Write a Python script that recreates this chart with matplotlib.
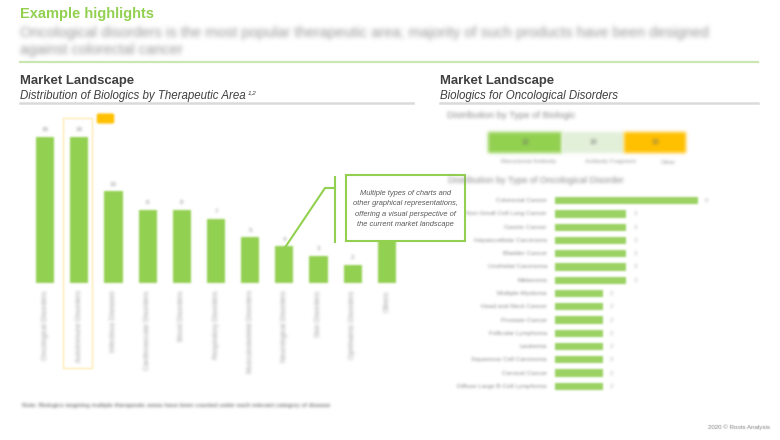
import numpy as np
import matplotlib
matplotlib.use("Agg")
import matplotlib.pyplot as plt
from matplotlib.patches import Rectangle, FancyBboxPatch
from matplotlib.lines import Line2D
from matplotlib.colors import to_rgb

# ---------------- data ----------------
area_names = ["Oncological Disorders", "Autoimmune Disorders", "Infectious Diseases",
              "Cardiovascular Disorders", "Blood Disorders", "Respiratory Disorders",
              "Musculoskeletal Disorders", "Neurological Disorders", "Skin Disorders",
              "Ophthalmic Disorders", "Others"]
area_values = [16, 16, 10, 8, 8, 7, 5, 4, 3, 2, 9]

biologic_types = ["Monoclonal Antibody", "Antibody Fragment", "Other"]
biologic_values = [12, 10, 10]

onc_names = ["Colorectal Cancer", "Non-Small Cell Lung Cancer", "Gastric Cancer",
             "Hepatocellular Carcinoma", "Bladder Cancer", "Urothelial Carcinoma",
             "Melanoma", "Multiple Myeloma", "Head and Neck Cancer", "Prostate Cancer",
             "Follicular Lymphoma", "Leukemia", "Squamous Cell Carcinoma",
             "Cervical Cancer", "Diffuse Large B-Cell Lymphoma"]
onc_values = [6, 3, 3, 3, 3, 3, 3, 2, 2, 2, 2, 2, 2, 2, 2]

headline = ["Oncological disorders is the most popular therapeutic area; majority of such products have been designed",
            "against colorectal cancer"]
callout = ["Multiple types of charts and", "other graphical representations,",
           "offering a visual perspective of", "the current market landscape"]

GREEN = "#92D050"
LIGHT_GREEN = "#E2F0D9"
ORANGE = "#FFC000"
SANS = ["Liberation Sans", "DejaVu Sans"]

W, H = 780, 440
fig = plt.figure(figsize=(7.8, 4.4), dpi=100)
fig.patch.set_facecolor("white")
renderer = fig.canvas.get_renderer()


def fx(x):
    return x / W


def fy(y):
    return 1 - y / H


class Blur:
    """Gaussian blur of an artist's alpha, painted with a flat colour."""
    def __init__(self, sigma, color):
        self.sigma = sigma
        self.color = to_rgb(color)

    def __call__(self, im, dpi):
        s = self.sigma * dpi / 100.0
        r = max(1, int(np.ceil(3 * s)))
        pad = r + 1
        a = np.pad(im[:, :, 3], pad)
        xs = np.arange(-r, r + 1)
        k = np.exp(-xs ** 2 / (2 * s * s))
        k /= k.sum()
        b = np.zeros_like(a)
        for i, w in enumerate(k):
            b += w * np.roll(a, i - r, axis=0)
        c = np.zeros_like(b)
        for i, w in enumerate(k):
            c += w * np.roll(b, i - r, axis=1)
        out = np.zeros(c.shape + (4,))
        out[..., :3] = self.color
        out[..., 3] = np.clip(c, 0, 1)
        return out, -pad, -pad


def blur(artist, sigma, color):
    artist.set_agg_filter(Blur(sigma, color))
    return artist


def fit_width(t, target):
    bb = t.get_window_extent(renderer)
    t.set_fontsize(t.get_fontsize() * target / bb.width)


# ---------------- header ----------------
t = fig.text(fx(20), fy(14), "Example highlights", color=GREEN, fontsize=11,
             fontweight="bold", va="center", family=SANS)
fit_width(t, 135)
for j, line in enumerate(headline):
    t = fig.text(fx(20), fy(33 + 17 * j), line, color="#959595", fontsize=10,
                 va="center", family=SANS)
    blur(t, 2.3, "#959595")
    if j == 0:
        fit_width(t, 685)
        fs_head = t.get_fontsize()
    else:
        t.set_fontsize(fs_head)
fig.add_artist(Line2D([fx(20), fx(758)], [fy(62), fy(62)], color="#C9E7AE", lw=1.6))

# ---------------- section headers ----------------
for x0, x1, sub, wsub in [(20, 413, "Distribution of Biologics by Therapeutic Area", 225),
                          (440, 758, "Biologics for Oncological Disorders", 178)]:
    t = fig.text(fx(x0), fy(81), "Market Landscape", color="#404040", fontsize=9.5,
                 fontweight="bold", va="center", family=SANS)
    fit_width(t, 115)
    st = fig.text(fx(x0), fy(96), sub, color="#404040", fontsize=8.5,
                  style="italic", va="center", family=SANS)
    fit_width(st, wsub)
    fig.add_artist(Line2D([fx(x0), fx(x1)], [fy(103), fy(103)], color="#DADADA", lw=1.8))
    if x0 == 20:
        bb = st.get_window_extent(renderer)
        fig.text(bb.x1 / W + fx(2), fy(93), "1,2", color="#404040", fontsize=4.5,
                 style="italic", va="center", family=SANS)

# ---------------- left bar chart ----------------
unit = 9.15
ax1 = fig.add_axes([fx(28), fy(283), 376 / W, 173 / H])
ax1.set_axis_off()
ax1.set_xlim(-0.5, len(area_values) - 0.5)
ax1.set_ylim(0, 173 / unit)
bars = ax1.bar(range(len(area_values)), area_values, width=0.53, color=GREEN)
for b in bars:
    blur(b, 1.0, GREEN)
ax1.axhline(0, color="#EDEDED", lw=0.8)
for i, (n, v) in enumerate(zip(area_names, area_values)):
    # the last bar's value label sits hidden under the callout box in the reference
    if i < len(area_values) - 1:
        t = ax1.text(i, v + 0.5, str(v), ha="center", va="bottom", fontsize=4.5,
                     color="#8a8a8a", family=SANS)
        blur(t, 1.3, "#8a8a8a")
    t = ax1.text(i, -0.8, n, ha="center", va="top", rotation=90, fontsize=5,
                 color="#9a9a9a", family=SANS, clip_on=False)
    blur(t, 1.5, "#9a9a9a")

# highlight frame and tag around the second bar
hl = Rectangle((fx(63), fy(368)), 29 / W, 250 / H, transform=fig.transFigure,
               fill=False, ec="#FFE7A6", lw=0.9)
fig.add_artist(hl)
blur(hl, 0.8, "#FFE7A6")
tag = FancyBboxPatch((fx(99), fy(122)), 13 / W, 7 / H, transform=fig.transFigure,
                     boxstyle="round,pad=0.002", fc=ORANGE, ec=ORANGE)
fig.add_artist(tag)
blur(tag, 1.0, ORANGE)

# ---------------- callout ----------------
fig.add_artist(Line2D([fx(335), fx(335)], [fy(177), fy(242)], color=GREEN, lw=1.5))
fig.add_artist(Line2D([fx(335), fx(325), fx(284)], [fy(188), fy(188), fy(249)],
                      color=GREEN, lw=1.5))
fig.add_artist(Rectangle((fx(346), fy(241)), 119 / W, 66 / H, transform=fig.transFigure,
                         fill=True, fc="white", ec=GREEN, lw=1.5))
cts = []
for k, line in enumerate(callout):
    t = fig.text(fx(405.5), fy(193 + 10.6 * k), line, ha="center", va="center",
                 style="italic", fontsize=6, color="#595959", family=SANS)
    cts.append(t)
widest = max(t.get_window_extent(renderer).width for t in cts)
for t in cts:
    t.set_fontsize(6 * 106 / widest)

# ---------------- right: type of biologic ----------------
t = fig.text(fx(447), fy(115), "Distribution by Type of Biologic", color="#8a8a8a",
             fontsize=6, va="center", family=SANS)
fit_width(t, 130)
blur(t, 1.6, "#8a8a8a")

ax2 = fig.add_axes([fx(488), fy(153), 198 / W, 21 / H])
ax2.set_axis_off()
ax2.set_xlim(0, sum(biologic_values))
ax2.set_ylim(-0.5, 0.5)
seg_colors = [GREEN, LIGHT_GREEN, ORANGE]
left = 0
for n, v, c in zip(biologic_types, biologic_values, seg_colors):
    r = ax2.barh(0, v, left=left, height=1.0, color=c)[0]
    blur(r, 1.8, c)
    t = ax2.text(left + v / 2, 0, str(v), ha="center", va="center", fontsize=5,
                 color="#6a6a6a", family=SANS)
    blur(t, 1.5, "#6a6a6a")
    left += v
for n, xc in zip(biologic_types, [529, 610, 668]):
    t = fig.text(fx(xc), fy(162), n, ha="center", va="center", fontsize=4.3,
                 color="#9a9a9a", family=SANS)
    blur(t, 1.4, "#9a9a9a")

# ---------------- right: type of oncological disorder ----------------
t = fig.text(fx(448), fy(180), "Distribution by Type of Oncological Disorder",
             color="#8a8a8a", fontsize=6, va="center", family=SANS)
fit_width(t, 179)
blur(t, 1.6, "#8a8a8a")

ax3 = fig.add_axes([fx(555), fy(393), 190 / W, 199 / H])
ax3.set_axis_off()
ax3.set_xlim(0, 8)
ax3.set_ylim(len(onc_values) - 0.5, -0.5)
hb = ax3.barh(range(len(onc_values)), onc_values, height=0.55, color="#9AD262")
for b in hb:
    blur(b, 1.0, "#9AD262")
for i, (n, v) in enumerate(zip(onc_names, onc_values)):
    t = ax3.text(-0.34, i, n, ha="right", va="center", fontsize=4.6,
                 color="#8a8a8a", family=SANS)
    blur(t, 1.3, "#8a8a8a")
    t = ax3.text(v + 0.3, i, str(v), ha="left", va="center", fontsize=4.3,
                 color="#b0b0b0", family=SANS)
    blur(t, 1.3, "#b0b0b0")

# ---------------- footer ----------------
t = fig.text(fx(22), fy(405), "Note: Biologics targeting multiple therapeutic areas have been "
             "counted under each relevant category of disease",
             fontsize=4.5, color="#4a4a4a", va="center", family=SANS)
fit_width(t, 308)
blur(t, 1.5, "#4a4a4a")
t = fig.text(fx(770), fy(427), "2020 \u00a9 Roots Analysis", ha="right", va="center",
             fontsize=4.6, color="#7f7f7f", family=SANS)
fit_width(t, 62)
blur(t, 0.5, "#7f7f7f")

fig.savefig("out.png", dpi=100, facecolor="white")
